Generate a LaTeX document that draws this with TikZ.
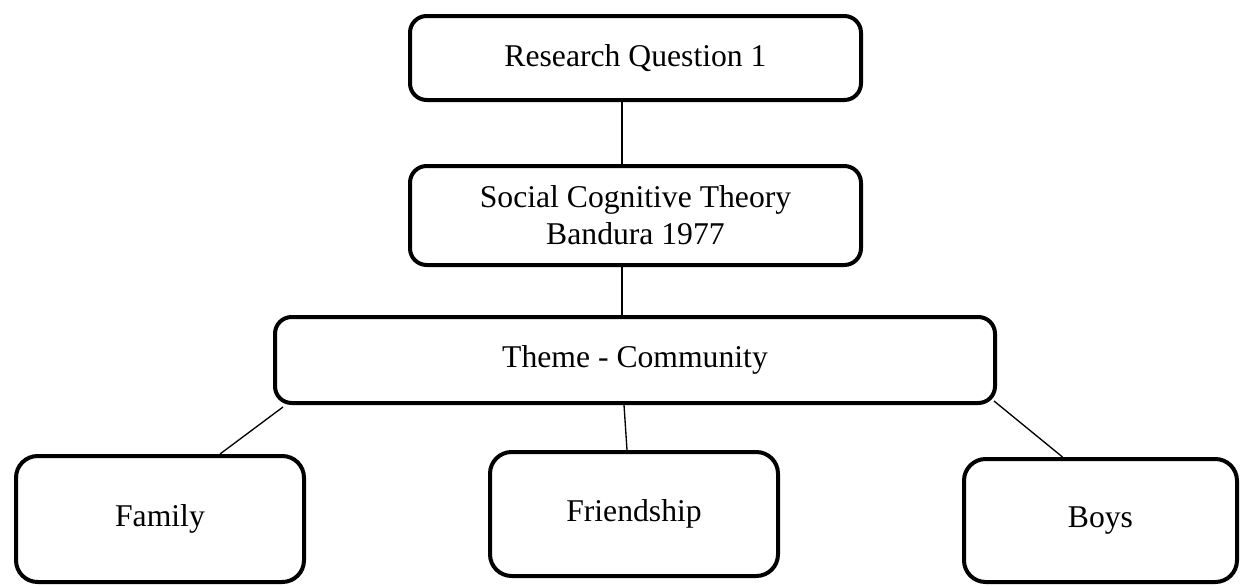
\documentclass[tikz,border=0pt]{standalone}
\usepackage{fontspec}
\setmainfont{Liberation Serif}
\usetikzlibrary{calc}
\def\pxu{0.6pt}
\tikzset{
  x=0.6pt, y=-0.6pt,
  box/.style 2 args={draw=black, fill=white, line width=2.4pt, rounded corners=10pt,
    inner sep=0pt, align=center, minimum width=#1*\pxu-2.4pt, minimum height=#2*\pxu-2.4pt,
    font=\fontsize{19}{22.2}\selectfont},
  tall/.style={rounded corners=13pt},
  link/.style={draw=black, line width=0.8pt}
}
\begin{document}
\begin{tikzpicture}
\useasboundingbox (0,0) rectangle (1241,586);
\node[box={455}{88}] (rq) at (635.5,58) {Research Question 1};
\node[box={455}{103}] (sct) at (635.5,215.5) {Social Cognitive Theory\\Bandura 1977};
\node[box={724}{90}] (theme) at (635,360) {Theme - Community};
\node[box={292}{130}, tall] (family) at (160,519) {Family};
\node[box={292}{128}, tall] (friend) at (634,514) {Friendship};
\node[box={277}{127}, tall] (boys) at (1100.5,520.5) {Boys};
\draw[link] ($(rq.south)+(-13.5,0)$) -- ($(sct.north)+(-13.5,0)$);
\draw[link] ($(sct.south)+(-13.5,0)$) -- ($(theme.north)+(-13,0)$);
\draw[link] ($(theme.south)+(-11,0)$) -- ($(friend.north)+(-7,0)$);
\draw[link] ($(theme.south west)+(10,2)$) -- ($(family.north)+(60,0)$);
\draw[link] ($(theme.south east)+(-3,-4)$) -- ($(boys.north)+(-38,0)$);
\end{tikzpicture}
\end{document}
